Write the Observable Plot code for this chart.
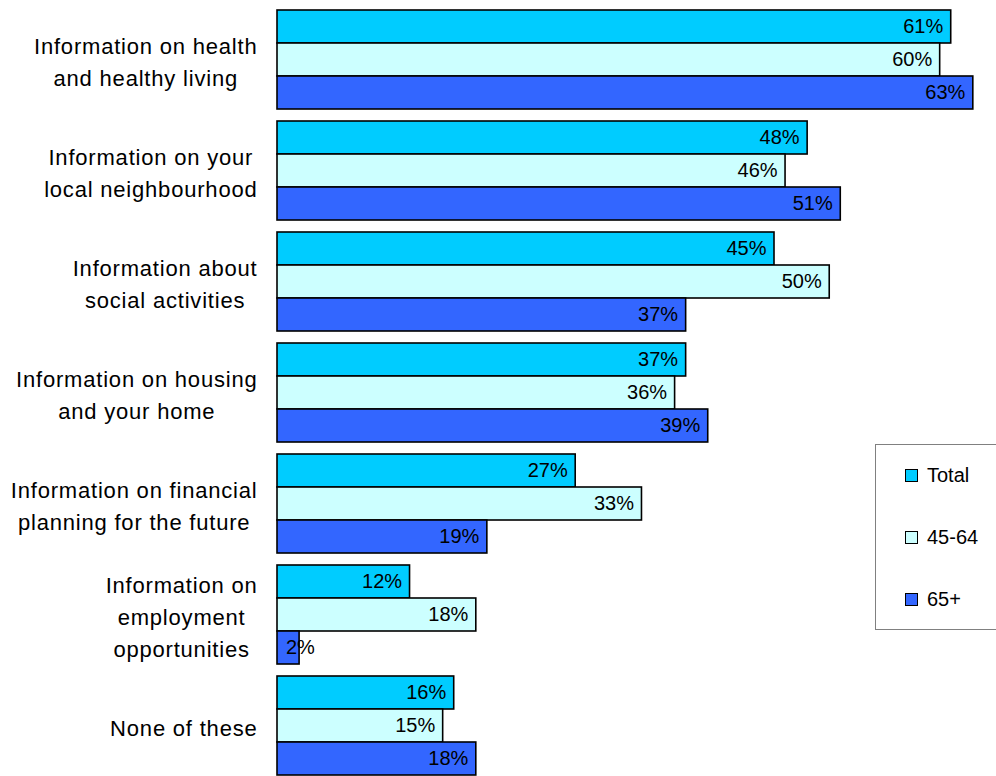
<!DOCTYPE html>
<html>
<head>
<meta charset="utf-8">
<script src="https://cdn.jsdelivr.net/npm/d3@7"></script>
<script src="https://cdn.jsdelivr.net/npm/@observablehq/plot@0.6"></script>
<style>
  html, body { margin: 0; padding: 0; background: #fff; }
  #wrap { position: relative; width: 996px; height: 776px; overflow: hidden; font-family: "Liberation Sans", Arial, sans-serif; }
  #legend { position: absolute; left: 875px; top: 444px; width: 130px; height: 186px; border: 1px solid #808080; background: #fff; box-sizing: border-box; }
  .item { position: absolute; left: 29px; font-size: 20px; color: #000; display: flex; align-items: center; }
  .sw { width: 11px; height: 11px; border: 1px solid #000; margin-right: 9px; }
</style>
</head>
<body>
<div id="wrap"><div id="chart"></div><div id="legend"></div></div>
<script>
const categories = [
  "Information on health\nand healthy living",
  "Information on your\nlocal neighbourhood",
  "Information about\nsocial activities",
  "Information on housing\nand your home",
  "Information on financial\nplanning for the future",
  "Information on\nemployment\nopportunities",
  "None of these"
];
const seriesNames = ["Total", "45-64", "65+"];
const totalValues = [61, 48, 45, 37, 27, 12, 16];
const age4564Values = [60, 46, 50, 36, 33, 18, 15];
const age65Values = [63, 51, 37, 39, 19, 2, 18];
const seriesColors = ["#00CCFF", "#CCFFFF", "#3366FF"];

const W = 996, H = 776, ML = 277, MR = 0, MT = 8, MB = 0;
const xMax = 65.1;
const pxPerUnit = (W - ML - MR) / xMax;
const FONT = '"Liberation Sans", Arial, sans-serif';
const catLetterSpacing = 0.8;
const catFontSize = 22;

const seriesValues = [totalValues, age4564Values, age65Values];
const data = [];
categories.forEach((c, i) => {
  seriesNames.forEach((s, j) => data.push({category: c, series: s, value: seriesValues[j][i]}));
});

// measure label widths to center each block, right-aligned at the axis gap
const ctx = document.createElement("canvas").getContext("2d");
ctx.font = `${catFontSize}px ${FONT}`;
const labelRight = 257;
const catData = categories.map(c => {
  const lines = c.split("\n");
  const maxW = d3.max(lines, l => ctx.measureText(l).width + catLetterSpacing * l.length);
  const centerPx = labelRight - maxW / 2;
  return {category: c, xPos: (centerPx - ML) / pxPerUnit};
});

const minLabelValue = 4.1;

const chart = Plot.plot({
  width: W, height: H,
  marginLeft: ML, marginRight: MR, marginTop: MT, marginBottom: MB,
  style: {fontFamily: FONT, background: "transparent"},
  x: {domain: [0, xMax], axis: null},
  y: {domain: seriesNames, axis: null, padding: 0},
  fy: {domain: categories, axis: null, paddingInner: 0.092, paddingOuter: 0},
  color: {domain: seriesNames, range: seriesColors},
  marks: [
    Plot.barX(data, {x: "value", y: "series", fy: "category", fill: "series", stroke: "#000", strokeWidth: 1.6}),
    Plot.text(data, {
      x: d => Math.max(d.value, minLabelValue), y: "series", fy: "category",
      text: d => d.value + "%", textAnchor: "end", dx: -8, fontSize: 20, fill: "#000"
    }),
    Plot.text(catData, {
      x: "xPos", fy: "category", text: "category", textAnchor: "middle",
      lineHeight: 1.45, fontSize: catFontSize, fill: "#000"
    })
  ]
});
d3.select(chart).selectAll("text")
  .filter(function() { return !this.textContent.includes("%"); })
  .attr("letter-spacing", catLetterSpacing + "px");
document.getElementById("chart").appendChild(chart);

// legend
const legend = document.getElementById("legend");
const itemTops = [19, 81, 143];
seriesNames.forEach((s, i) => {
  const it = document.createElement("div");
  it.className = "item";
  it.style.top = itemTops[i] + "px";
  it.innerHTML = `<span class="sw" style="background:${seriesColors[i]}"></span><span>${s}</span>`;
  legend.appendChild(it);
});
</script>
</body>
</html>
